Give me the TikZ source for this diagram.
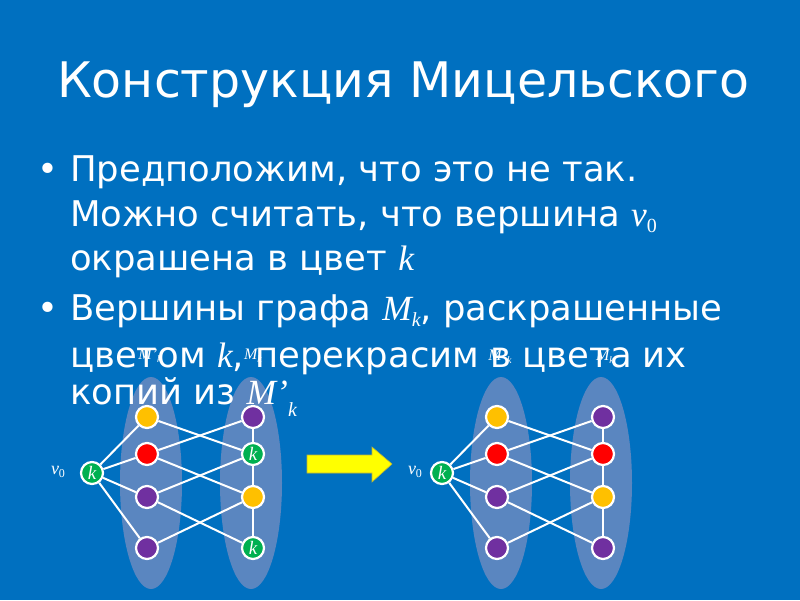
\documentclass[tikz,border=0pt]{standalone}
\usepackage{fontspec}
\setmainfont{DejaVu Sans}
\newfontfamily\tms{Liberation Serif}
\usetikzlibrary{shapes.geometric}
\definecolor{bg}{HTML}{0070C0}
\definecolor{ell}{HTML}{5A86C0}
\definecolor{cy}{HTML}{FFC000}
\definecolor{cr}{HTML}{FF0000}
\definecolor{cp}{HTML}{7030A0}
\definecolor{cg}{HTML}{00B050}
\definecolor{arrowyellow}{HTML}{FFFF00}
\newcommand\mv[1]{{\tms\itshape #1}}
\newcommand\msb[2]{\raisebox{#1}{\tms\fontsize{20}{20}\selectfont #2}}
\tikzset{
  body/.style={anchor=base west, inner sep=0pt, text=white, font=\fontsize{35.4}{40}\selectfont},
  vtx/.style={circle, draw=white, line width=2.2pt, minimum size=22pt, inner sep=0pt, font=\tms\itshape\fontsize{19}{19}\selectfont, text=white},
  edge/.style={white, line width=2pt},
  oval/.style={ellipse, fill=ell, minimum width=62pt, minimum height=212pt, inner sep=0pt},
  glabel/.style={inner sep=0pt, text=white, font=\tms\itshape\fontsize{16}{16}\selectfont},
}
\begin{document}
\begin{tikzpicture}[x=1pt,y=-1pt]
\useasboundingbox (0,0) rectangle (800,600);
\fill[bg] (0,0) rectangle (800,600);
% ellipses
\node[oval] (e1) at (151,483) {};
\node[oval] (e2) at (251,483) {};
\node[oval] (e3) at (501,483) {};
\node[oval] (e4) at (601,483) {};
\node[glabel] (l1) at (150,356) {M’\raisebox{-3pt}{\fontsize{10}{10}\selectfont k}};
\node[glabel] (l2) at (253,356) {M\raisebox{-3pt}{\fontsize{10}{10}\selectfont k}};
\node[glabel] (l3) at (500,357) {M’\raisebox{-3pt}{\fontsize{10}{10}\selectfont k}};
\node[glabel] (l4) at (605,357) {M\raisebox{-3pt}{\fontsize{10}{10}\selectfont k}};
% title
\node[anchor=base west, inner sep=0pt, text=white, font=\fontsize{49}{55}\selectfont] (title) at (57,97) {Конструкция Мицельского};
% bullets
\node[body] (b1dot) at (37,181) {•};
\node[body] (t1) at (70,181) {Предположим, что это не так.};
\node[body] (t2) at (70,226) {Можно считать, что вершина \mv{v}\msb{-6pt}{0}};
\node[body] (t3) at (70,270) {окрашена в цвет \mv{k}};
\node[body] (b2dot) at (37,320) {•};
\node[body] (t4) at (70,320) {Вершины графа \mv{M}\msb{-6pt}{\itshape k}, раскрашенные};
\node[body] (t5) at (70,367) {цветом \mv{k}, перекрасим в цвета их};
\node[body] (t6) at (70,404) {копий из \mv{M’}\msb{-12pt}{\itshape k}};
% graph 1
\node[vtx, fill=cg] (a0) at (92,473) {k};
\node[glabel, font=\tms\itshape\fontsize{18}{18}\selectfont] (v1) at (58,472) {v\raisebox{-3pt}{\upshape\fontsize{12}{12}\selectfont 0}};
\node[vtx, fill=cy] (a1) at (147,417) {};
\node[vtx, fill=cr] (a2) at (147,454) {};
\node[vtx, fill=cp] (a3) at (147,497) {};
\node[vtx, fill=cp] (a4) at (147,548) {};
\node[vtx, fill=cp] (b1) at (253,417) {};
\node[vtx, fill=cg] (b2) at (253,454) {k};
\node[vtx, fill=cy] (b3) at (253,497) {};
\node[vtx, fill=cg] (b4) at (253,548) {k};
% graph 2
\node[vtx, fill=cg] (c0) at (442,473) {k};
\node[glabel, font=\tms\itshape\fontsize{18}{18}\selectfont] (v2) at (415,472) {v\raisebox{-3pt}{\upshape\fontsize{12}{12}\selectfont 0}};
\node[vtx, fill=cy] (c1) at (497,417) {};
\node[vtx, fill=cr] (c2) at (497,454) {};
\node[vtx, fill=cp] (c3) at (497,497) {};
\node[vtx, fill=cp] (c4) at (497,548) {};
\node[vtx, fill=cp] (d1) at (603,417) {};
\node[vtx, fill=cr] (d2) at (603,454) {};
\node[vtx, fill=cy] (d3) at (603,497) {};
\node[vtx, fill=cp] (d4) at (603,548) {};
% edges
\foreach \p/\q in {a/b,c/d}{
  \foreach \i in {1,...,4} \draw[edge] (\p0) -- (\p\i);
  \draw[edge] (\p1) -- (\q2);
  \draw[edge] (\p2) -- (\q1);
  \draw[edge] (\p2) -- (\q3);
  \draw[edge] (\p3) -- (\q2);
  \draw[edge] (\p3) -- (\q4);
  \draw[edge] (\p4) -- (\q3);
  \draw[edge] (\q1) -- (\q2) -- (\q3) -- (\q4);
}
% arrow
\fill[arrowyellow, draw=yellow!70!black, line width=0.6pt] (307,455) -- (372,455) -- (372,447) -- (392,464) -- (372,482) -- (372,473) -- (307,473) -- cycle;
\end{tikzpicture}
\end{document}
